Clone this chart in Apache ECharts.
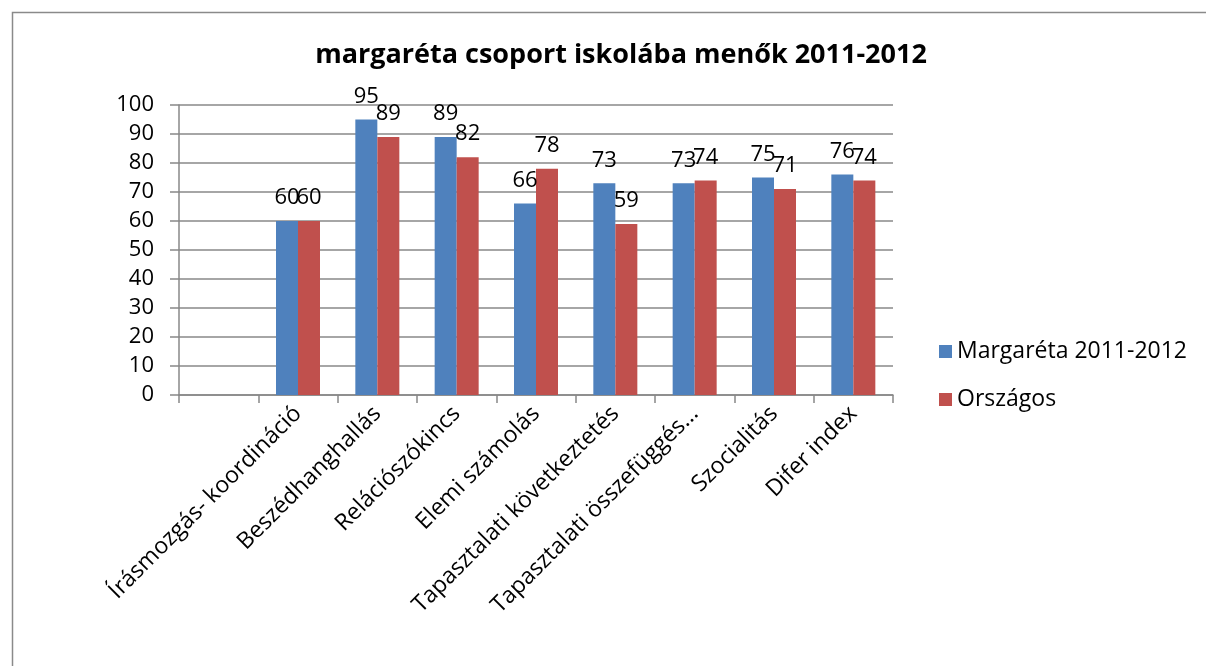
<!DOCTYPE html>
<html><head><meta charset="utf-8">
<script src="https://cdn.jsdelivr.net/npm/echarts@6/dist/echarts.min.js"></script>
<style>html,body{margin:0;padding:0;background:#fff}#c{width:1206px;height:666px}</style>
</head><body><div id="c"></div>
<script>
const categories = ["", "Írásmozgás- koordináció", "Beszédhanghallás", "Relációszókincs", "Elemi számolás", "Tapasztalati következtetés", "Tapasztalati összefüggés...", "Szocialitás", "Difer index"];
const margareta = [null, 60, 95, 89, 66, 73, 73, 75, 76];
const orszagos = [null, 60, 89, 82, 78, 59, 74, 71, 74];
const yTicks = [0, 10, 20, 30, 40, 50, 60, 70, 80, 90, 100];

const FONT = "'Open Sans', 'Noto Sans', sans-serif";
const chart = echarts.init(document.getElementById('c'));
const lbl = {show: true, position: 'top', distance: 12, fontSize: 22, color: '#000', fontFamily: FONT};
chart.setOption({
  animation: false,
  title: {text: 'margaréta csoport iskolába menők 2011-2012', left: 616, textAlign: 'center', top: 37,
    textStyle: {fontSize: 27, fontWeight: 'bold', color: '#000', fontFamily: FONT}},
  graphic: [{type: 'rect', shape: {x: 12.5, y: 12.5, width: 1300, height: 700},
    style: {fill: 'none', stroke: '#8a8a8a', lineWidth: 1.5}}],
  legend: {orient: 'vertical', left: 934, top: 335, itemWidth: 13, itemHeight: 13, itemGap: 25,
    icon: 'rect', textStyle: {fontSize: 23, color: '#000', fontFamily: FONT}},
  grid: {left: 179, right: 313, top: 105, bottom: 271, containLabel: false},
  xAxis: {type: 'category', data: categories,
    axisLine: {lineStyle: {color: '#888', width: 1.5}},
    axisTick: {show: true, length: 8, lineStyle: {color: '#888', width: 1.5}},
    axisLabel: {rotate: 45, fontSize: 23, color: '#000', fontFamily: FONT, margin: 15, interval: 0}},
  yAxis: {type: 'value', min: yTicks[0], max: yTicks[yTicks.length - 1], interval: 10,
    axisLine: {show: true, lineStyle: {color: '#888', width: 1.5}},
    axisTick: {show: true, length: 9, lineStyle: {color: '#888', width: 1.5}},
    splitLine: {lineStyle: {color: '#888', width: 1.5}},
    axisLabel: {fontSize: 22, color: '#000', fontFamily: FONT, margin: 25}},
  series: [
    {name: 'Margaréta 2011-2012', type: 'bar', data: margareta, itemStyle: {color: '#4F81BD'},
      barWidth: 22, barGap: '0%', label: lbl},
    {name: 'Országos', type: 'bar', data: orszagos, itemStyle: {color: '#C0504D'},
      barWidth: 22, barGap: '0%', label: lbl}
  ]
});
</script></body></html>
